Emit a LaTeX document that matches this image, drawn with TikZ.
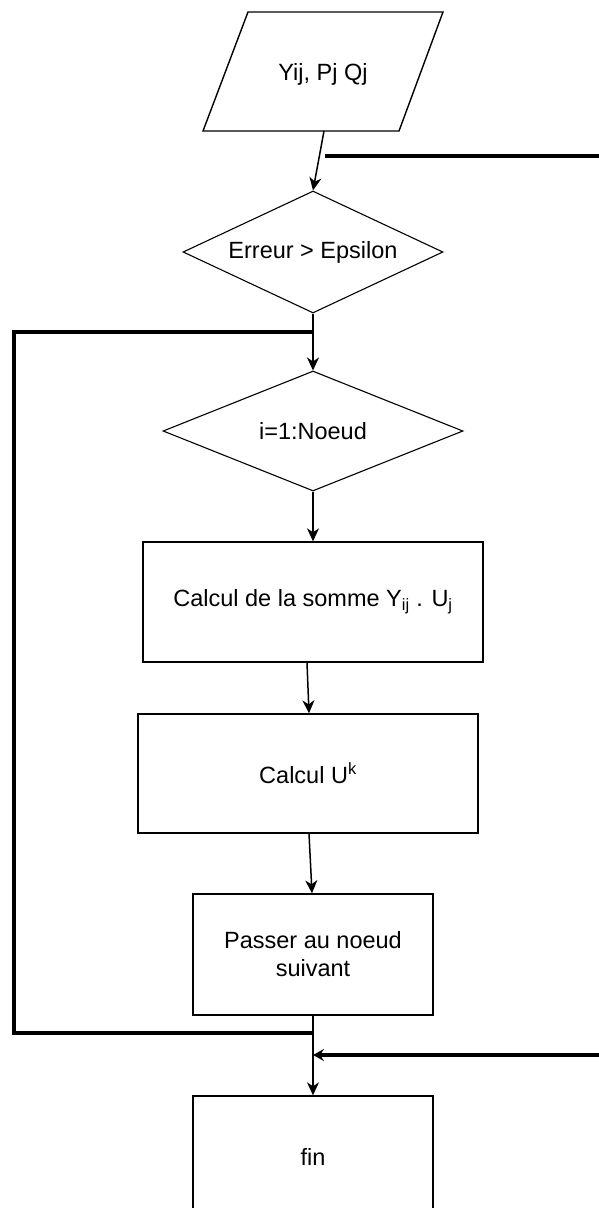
\documentclass[tikz,border=0pt]{standalone}
\usepackage{fontspec}
\setmainfont{Liberation Sans}
\usetikzlibrary{shapes.geometric,arrows.meta}
\begin{document}
\begin{tikzpicture}[x=1pt,y=-1pt,
  every node/.style={font=\fontsize{23.5}{28}\selectfont, inner sep=0pt},
  box/.style={draw, line width=1.4pt, rectangle, align=center},
  dec/.style={draw, line width=1.1pt, diamond, align=center},
  thin/.style={line width=1.5pt, -{Stealth[length=13pt,width=12pt,inset=4pt]}},
  thick/.style={line width=3.2pt},
  thickarrow/.style={line width=3.2pt, -{Stealth[length=11pt,width=12pt,inset=4pt]}}]
\useasboundingbox (0,0) rectangle (599,1208);
\clip (0,0) rectangle (599,1208);
% input parallelogram
\draw[line width=1.4pt, line join=miter] (248,12) -- (443,12) -- (399,131) -- (203,131) -- cycle;
\node (inp) at (323,74) {Yij, Pj Qj};
\coordinate (inb) at (324,131);
% decisions
\node[dec, aspect=2.13, minimum width=260pt, minimum height=122pt] (d1) at (313,252) {Erreur > Epsilon};
\node[dec, aspect=2.5, minimum width=300pt, minimum height=120pt] (d2) at (313,431) {i=1:Noeud};
% boxes
\node[box, minimum width=340pt, minimum height=120pt] (b1) at (313,602) {Calcul de la somme Y\textsubscript{ij} . U\textsubscript{j}};
\node[box, minimum width=340pt, minimum height=119pt] (b2) at (308,773.5) {Calcul U\textsuperscript{k}};
\node[box, minimum width=240pt, minimum height=121pt] (b3) at (313,954.5) {Passer au noeud\\suivant};
\node[box, minimum width=240pt, minimum height=122pt] (fin) at (313,1157) {fin};
% junction coordinates
\coordinate (jtop) at (313,332);
\coordinate (jbot) at (313,1033);
\coordinate (ltop) at (14,332);
\coordinate (lbot) at (14,1033);
\coordinate (rtop) at (601,156);
\coordinate (rtopend) at (325,156);
\coordinate (rbot) at (601,1055);
\coordinate (rbotend) at (313,1055);
% connectors
\draw[thin] (inb) -- (d1.north);
\draw[thick] (rtop) -- (rtopend);
\draw[thin] (d1.south) -- (d2.north);
\draw[thick, line join=miter] (jtop) -- (ltop) -- (lbot) -- (jbot);
\draw[thin] (d2.south) -- (b1.north);
\draw[thin] ([xshift=-6pt]b1.south) -- ([xshift=1pt]b2.north);
\draw[thin] ([xshift=1pt]b2.south) -- ([xshift=-1pt]b3.north);
\draw[thin] (b3.south) -- (fin.north);
\draw[thickarrow] (rbot) -- (rbotend);
\end{tikzpicture}
\end{document}
